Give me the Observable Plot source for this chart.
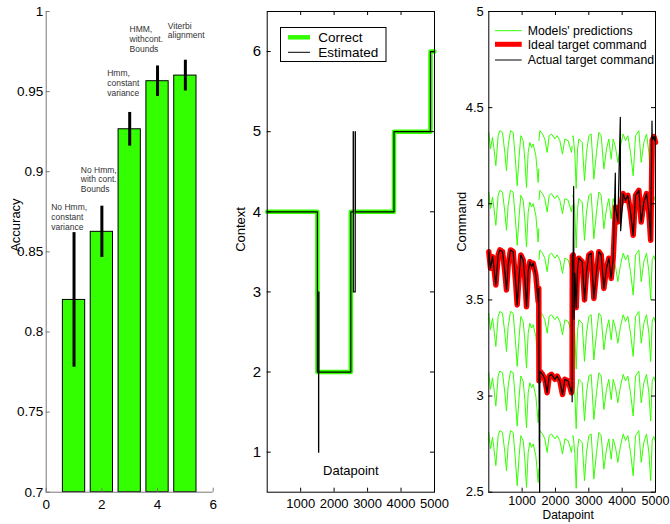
<!DOCTYPE html>
<html><head><meta charset="utf-8">
<script src="https://cdn.jsdelivr.net/npm/d3@7"></script>
<script src="https://cdn.jsdelivr.net/npm/@observablehq/plot@0.6"></script>
<style>
html,body{margin:0;padding:0;background:#fff;}
#chart{position:relative;width:670px;height:524px;font-family:"Liberation Sans",Arial,Helvetica,sans-serif;}
#chart svg{position:absolute;top:0;overflow:visible;}
</style></head><body><div id="chart"></div>
<script>
// ---------- Panel 1 data ----------
const methodIndex = [1, 2, 3, 4, 5];
const methodLabels = ["No Hmm,\nconstant\nvariance", "No Hmm,\nwith cont.\nBounds", "Hmm,\nconstant\nvariance", "HMM,\nwithcont.\nBounds", "Viterbi\nalignment"];
const accuracy = [0.82, 0.8625, 0.9265, 0.9565, 0.96];
const accuracyErr = [0.042, 0.016, 0.0105, 0.0095, 0.0096];
const accTicks = [0.7, 0.75, 0.8, 0.85, 0.9, 0.95, 1];
const methodTicks = [0, 2, 4, 6];

// ---------- Panel 2 data ----------
const contextChange = [0, 1500, 2500, 3790, 4880];
const contextValue = [4, 2, 4, 5, 6];
const estimatedX = [0, 1500, 1535, 1540, 1545, 2500, 2570, 2575, 2630, 2635, 3790, 4880, 5000];
const estimatedY = [4, 2, 1, 3, 2, 4, 5, 3, 5, 4, 5, 6, 6];
const contextTicks = [1, 2, 3, 4, 5, 6];
const datapointTicks = [1000, 2000, 3000, 4000, 5000];

// ---------- Panel 3 data ----------
const trialStarts = [0, 1500, 2500];
const modelLevels = [2.82, 3.13, 3.44, 3.76, 4.07, 4.38];
// prediction shape: [datapoint, drop below the model's level]
const predPattern = [
  [0, 0.01], [51, 0.095], [111, 0.035], [151, 0.087], [211, 0.182], [281, 0.026], [331, 0], [411, 0.009],
  [481, 0.113], [531, 0.208], [581, 0.078], [651, 0], [731, 0.009], [811, 0.182], [851, 0.286], [911, 0.13],
  [961, 0.026], [1031, 0.052], [1081, 0.148], [1131, 0.295], [1181, 0.113], [1231, 0.061], [1281, 0.087],
  [1331, 0.069], [1411, 0.13], [1481, 0.269], [1499, 0.2],
  [1505, 0.05], [1531, 0], [1611, 0.017], [1681, 0.043], [1751, 0.113], [1811, 0.026], [1881, 0.017],
  [1981, 0.043], [2051, 0.026], [2131, 0.052], [2211, 0.122], [2281, 0.043], [2381, 0.052], [2481, 0.113], [2499, 0.08],
  [2505, 0.03], [2531, 0.026], [2581, 0.12], [2621, 0.3], [2661, 0.1], [2701, 0.043], [2801, 0.061], [2871, 0.26],
  [2931, 0.113], [3001, 0.026], [3071, 0.017], [3151, 0.252], [3231, 0.113], [3301, 0.009], [3371, 0.026],
  [3451, 0.2], [3531, 0.095], [3601, 0.043], [3671, 0.148], [3731, 0.043], [3801, 0.087], [3871, 0.165],
  [3951, 0.078], [4031, 0.017], [4101, 0.052], [4171, 0.026], [4251, 0.113], [4331, 0.234], [4401, 0.026],
  [4501, 0], [4571, 0.165], [4651, 0.061], [4731, 0.017], [4801, 0.113], [4856, 0.26], [4901, 0.05],
  [4951, 0.03], [5000, 0.06]
];
const actualSpikes = [[1525, 2.5], [2500, 2.97], [2545, 4.09], [2555, 3.4], [3795, 4.16], [3945, 4.45], [3955, 3.86], [4895, 4.43]];
const commandTicks = [2.5, 3, 3.5, 4, 4.5, 5];

const legend2 = ["Correct", "Estimated"];
const legend3 = ["Models' predictions", "Ideal target command", "Actual target command"];

// ---------- derived tables ----------
const bars = methodIndex.map((i, k) => ({i, v: accuracy[k], lo: accuracy[k] - accuracyErr[k], hi: accuracy[k] + accuracyErr[k], label: methodLabels[k]}));
const correct = contextChange.map((x, k) => ({x, y: contextValue[k]})).concat([{x: 5000, y: contextValue[contextValue.length - 1]}]);
const estimated = estimatedX.map((x, k) => ({x, y: estimatedY[k]}));
const trialOf = x => d3.bisectRight(trialStarts, x) - 1;
const contextAt = x => contextValue[d3.bisectRight(contextChange, x) - 1];
const predictions = modelLevels.flatMap((level, m) => predPattern.map(([x, dip]) => ({x, y: level - dip, series: m + "-" + trialOf(x)})));
const ideal = predPattern.map(([x, dip]) => ({x, y: modelLevels[contextAt(x) - 1] - dip}));
const actual = ideal.concat(actualSpikes.map(([x, y]) => ({x, y}))).sort((a, b) => a.x - b.x);

const FONT = '"Liberation Sans", Arial, Helvetica, sans-serif';
const GREEN = "#33ff00";
const H = 524, MT = 11, MB = 32.3;
const frameH = H - MT - MB;
const chart = document.getElementById("chart");
function place(svg, left) { svg.style.left = left + "px"; chart.appendChild(svg); }
const baseStyle = {background: "transparent", overflow: "visible", fontFamily: FONT, color: "black"};

// ---------- Panel 1 ----------
{
  const W = 230, ML = 45.7, MR = 17.3, fw = W - ML - MR;
  const nudges = [[-22.8, -3.1], [-21.1, -14.2], [-22.5, -16.8], [-28, -14.2], [-17.6, -21.8]];
  const p = Plot.plot({
    width: W, height: H, marginLeft: ML, marginRight: MR, marginTop: MT, marginBottom: MB,
    style: baseStyle,
    x: {domain: [0, 6], axis: null},
    y: {domain: [0.7, 1], axis: null},
    marks: [
      Plot.rect(bars, {x1: d => d.i - 0.4, x2: d => d.i + 0.4, y1: () => 0.7, y2: "v", fill: GREEN, stroke: "black", strokeWidth: 1}),
      Plot.ruleX(bars, {x: "i", y1: "lo", y2: "hi", stroke: "black", strokeWidth: 3}),
      ...bars.map((b, k) => Plot.text([b], {x: "i", y: "hi", text: "label", textAnchor: "start", lineAnchor: "bottom", dx: nudges[k][0], dy: nudges[k][1], fontSize: 8.5, lineHeight: 1.14, fill: "#333"})),
      Plot.ruleX([0], {stroke: "#777"}),
      Plot.ruleY([0.7], {stroke: "#777"}),
      Plot.tickY(accTicks, {y: d => d, insetRight: fw - 4, stroke: "#777"}),
      Plot.tickX(methodTicks, {x: d => d, insetTop: frameH - 4, stroke: "#777"}),
      Plot.axisY({ticks: accTicks, tickFormat: d => String(d), tickSize: 0, tickPadding: 3, fontSize: 13.5, label: null}),
      Plot.axisX({ticks: methodTicks, tickFormat: d => String(d), tickSize: 0, tickPadding: 7.5, fontSize: 13.5, label: null}),
      Plot.text(["Accuracy"], {frameAnchor: "left", rotate: -90, dx: -30.7, fontSize: 13})
    ]
  });
  place(p, 0);
}

// ---------- Panel 2 ----------
{
  const W = 215, ML = 36.7, MR = 11, fw = W - ML - MR;
  const p = Plot.plot({
    width: W, height: H, marginLeft: ML, marginRight: MR, marginTop: MT, marginBottom: MB,
    style: baseStyle,
    x: {domain: [0, 5000], axis: null},
    y: {domain: [0.5, 6.5], axis: null},
    marks: [
      Plot.line(correct, {x: "x", y: "y", curve: "step-after", stroke: GREEN, strokeWidth: 4.5}),
      Plot.line(estimated, {x: "x", y: "y", curve: "step-after", stroke: "black", strokeWidth: 1.2}),
      Plot.frame({stroke: "black"}),
      Plot.tickY(contextTicks, {y: d => d, insetRight: fw - 4, stroke: "black"}),
      Plot.tickY(contextTicks, {y: d => d, insetLeft: fw - 4, stroke: "black"}),
      Plot.tickX(datapointTicks, {x: d => d, insetTop: frameH - 4, stroke: "black"}),
      Plot.tickX(datapointTicks, {x: d => d, insetBottom: frameH - 4, stroke: "black"}),
      Plot.axisY({ticks: contextTicks, tickFormat: d => String(d), tickSize: 0, tickPadding: 6, fontSize: 15, label: null}),
      Plot.axisX({ticks: datapointTicks, tickFormat: d => String(d), tickSize: 0, tickPadding: 7, fontSize: 13, label: null}),
      Plot.text(["Context"], {frameAnchor: "left", rotate: -90, dx: -26.2, fontSize: 13}),
      Plot.text(["Datapoint"], {frameAnchor: "bottom", dy: -17.7, fontSize: 13})
    ]
  });
  place(p, 230);
}

// ---------- Panel 3 ----------
{
  const W = 225, ML = 43.3, MR = 15, fw = W - ML - MR;
  const p = Plot.plot({
    width: W, height: H, marginLeft: ML, marginRight: MR, marginTop: MT, marginBottom: MB,
    style: baseStyle,
    x: {domain: [0, 5000], axis: null},
    y: {domain: [2.5, 5], axis: null},
    marks: [
      Plot.line(predictions, {x: "x", y: "y", z: "series", stroke: GREEN, strokeWidth: 1}),
      Plot.line(ideal, {x: "x", y: "y", stroke: "#ff0000", strokeWidth: 5.5}),
      Plot.line(actual, {x: "x", y: "y", stroke: "black", strokeWidth: 1.2}),
      Plot.frame({stroke: "black"}),
      Plot.tickY(commandTicks, {y: d => d, insetRight: fw - 4, stroke: "black"}),
      Plot.tickY(commandTicks, {y: d => d, insetLeft: fw - 4, stroke: "black"}),
      Plot.tickX(datapointTicks, {x: d => d, insetTop: frameH - 4, stroke: "black"}),
      Plot.tickX(datapointTicks, {x: d => d, insetBottom: frameH - 4, stroke: "black"}),
      Plot.axisY({ticks: commandTicks, tickFormat: d => String(d), tickSize: 0, tickPadding: 5, fontSize: 13, label: null}),
      Plot.axisX({ticks: datapointTicks, tickFormat: d => String(d), tickSize: 0, tickPadding: 4, fontSize: 12.5, label: null}),
      Plot.text(["Command"], {frameAnchor: "left", rotate: -90, dx: -26.6, fontSize: 13}),
      Plot.text(["Datapoint"], {frameAnchor: "bottom", dx: -4, dy: 26.5, fontSize: 12})
    ]
  });
  place(p, 445);
}

// ---------- Legends (overlay) ----------
{
  const ov = d3.select(chart).append("svg").attr("width", 670).attr("height", 524)
    .style("left", "0px").style("pointer-events", "none").style("font-family", FONT);
  // panel 2 legend
  ov.append("rect").attr("x", 280.5).attr("y", 27.5).attr("width", 105.5).attr("height", 34)
    .attr("fill", "white").attr("stroke", "black");
  const l2 = [{c: GREEN, w: 4.5, y: 37.3}, {c: "black", w: 1, y: 52.3}];
  l2.forEach((s, k) => {
    ov.append("line").attr("x1", 288).attr("x2", 310).attr("y1", s.y).attr("y2", s.y).attr("stroke", s.c).attr("stroke-width", s.w);
    ov.append("text").attr("x", 318.3).attr("y", s.y).attr("dy", "0.35em").attr("font-size", 13.5).text(legend2[k]);
  });
  // panel 3 legend
  const l3 = [{c: GREEN, w: 1, y: 30.7}, {c: "#ff0000", w: 5, y: 44.3}, {c: "black", w: 1, y: 60}];
  l3.forEach((s, k) => {
    ov.append("line").attr("x1", 495).attr("x2", 521.7).attr("y1", s.y).attr("y2", s.y).attr("stroke", s.c).attr("stroke-width", s.w);
    ov.append("text").attr("x", 527.7).attr("y", s.y).attr("dy", "0.35em").attr("font-size", 12.3).text(legend3[k]);
  });
}
</script>
</body></html>
